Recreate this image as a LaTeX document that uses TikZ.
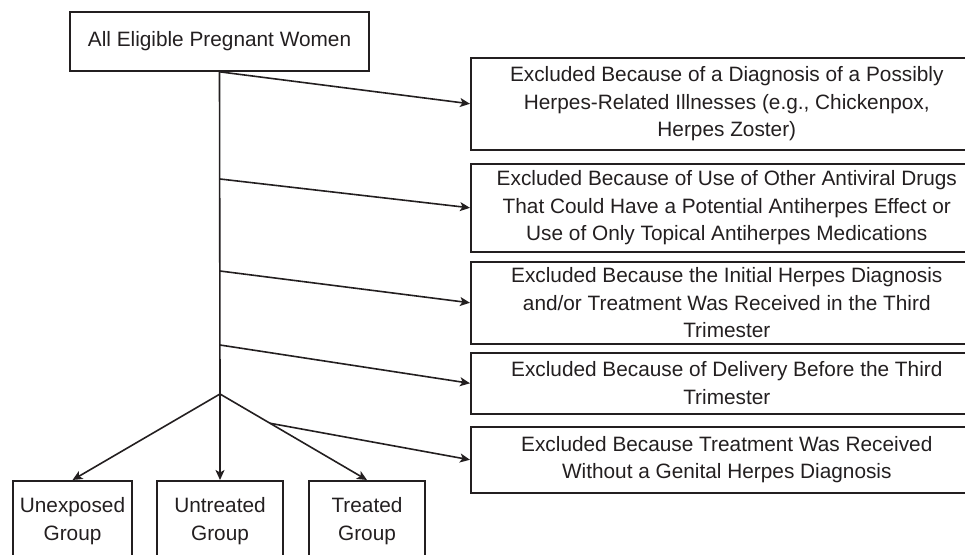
\documentclass[tikz,border=0pt]{standalone}
\usepackage{fontspec}
\setmainfont{Liberation Sans}
\usetikzlibrary{arrows.meta,calc}
\definecolor{ink}{HTML}{231F20}
\begin{document}
\begin{tikzpicture}[x=1pt,y=-1pt,line width=1.6pt,draw=ink,text=ink,
	every node/.style={font=\fontsize{20.8}{27.5}\selectfont,align=center,inner sep=0pt},
	box/.style={draw,rectangle},
	exbox/.style={box,anchor=north west,minimum width=512pt},
	grp/.style={box,anchor=north,inner ysep=17pt},
	arr/.style={-{Stealth[length=10pt,width=9pt,inset=2.5pt]}}]
	\useasboundingbox (0,0) rectangle (965,554);
	\node[box,minimum width=299pt,minimum height=59pt] (all) at (219.5,41.5) {All Eligible Pregnant Women};
	\node[exbox,minimum height=92pt] (ex1) at (470,57) {Excluded Because of a Diagnosis of a Possibly\\Herpes-Related Illnesses (e.g., Chickenpox,\\Herpes Zoster)};
	\node[exbox,minimum height=88pt] (ex2) at (470,163) {Excluded Because of Use of Other Antiviral Drugs\\That Could Have a Potential Antiherpes Effect or\\Use of Only Topical Antiherpes Medications};
	\node[exbox,minimum height=82pt] (ex3) at (470,261) {Excluded Because the Initial Herpes Diagnosis\\and/or Treatment Was Received in the Third\\Trimester};
	\node[exbox,minimum height=61pt] (ex4) at (470,352) {Excluded Because of Delivery Before the Third\\Trimester};
	\node[exbox,minimum height=66pt] (ex5) at (470,426) {Excluded Because Treatment Was Received\\Without a Genital Herpes Diagnosis};
	\node[grp,minimum width=119pt] (unexp) at (72.5,480) {Unexposed\\Group};
	\node[grp,minimum width=126pt] (untr) at (220,480) {Untreated\\Group};
	\node[grp,minimum width=116pt] (treat) at (367,480) {Treated\\Group};
	\coordinate (b2) at (220,179);
	\coordinate (b3) at (220,271);
	\coordinate (b4) at (220,345);
	\coordinate (fork) at (220,394);
	\coordinate (b5) at ($(fork)!0.34!(treat.north)$);
	\draw (all.south) -- (fork);
	\draw[arr] (all.south) -- (ex1.west);
	\draw[arr] (b2) -- (ex2.west);
	\draw[arr] (b3) -- (ex3.west);
	\draw[arr] (b4) -- (ex4.west);
	\draw[arr] (b5) -- (ex5.west);
	\draw[arr] (fork) -- (unexp.north);
	\draw[arr] (fork) -- (untr.north);
	\draw[arr] (fork) -- (treat.north);
\end{tikzpicture}
\end{document}
